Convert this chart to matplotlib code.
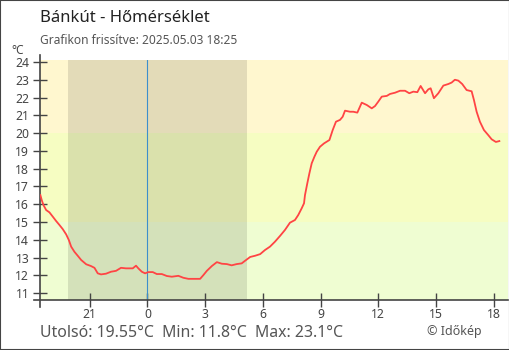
import matplotlib.pyplot as plt
from matplotlib.patches import Rectangle

plt.rcParams['font.family'] = ['Noto Sans', 'DejaVu Sans']

# hours relative to midnight (negative = previous evening)
hours = [-5.56, -5.49, -5.40, -5.26, -5.09, -4.91, -4.74, -4.57, -4.40, -4.22,
         -4.08, -3.96, -3.79, -3.62, -3.44, -3.18, -2.93, -2.75, -2.58, -2.41,
         -2.15, -1.89, -1.63, -1.37, -1.11, -0.76, -0.59, -0.47, -0.29, -0.12,
         0.05, 0.28, 0.49, 0.75, 1.01, 1.27, 1.61, 1.87, 2.13, 2.39,
         2.74, 2.91, 3.09, 3.35, 3.61, 3.87, 4.13, 4.38, 4.64, 4.90,
         5.08, 5.34, 5.60, 5.86, 6.11, 6.37, 6.63, 6.89, 7.15, 7.41,
         7.67, 7.84, 8.02, 8.14, 8.19, 8.31, 8.42, 8.54, 8.68, 8.80,
         8.97, 9.18, 9.46, 9.63, 9.80, 10.01, 10.15, 10.27, 10.53, 10.70,
         10.91, 11.14, 11.40, 11.66, 11.83, 12.00, 12.18, 12.44, 12.61, 12.87,
         13.13, 13.39, 13.61, 13.82, 14.03, 14.20, 14.43, 14.60, 14.72, 14.89,
         15.12, 15.38, 15.64, 15.81, 15.98, 16.16, 16.36, 16.59, 16.85, 16.97,
         17.11, 17.28, 17.49, 17.71, 17.89, 18.11, 18.29]
temps = [16.51, 16.23, 15.95, 15.67, 15.54, 15.29, 15.05, 14.83, 14.60, 14.30,
         13.98, 13.61, 13.32, 13.10, 12.86, 12.62, 12.52, 12.42, 12.11, 12.05,
         12.09, 12.20, 12.25, 12.42, 12.39, 12.39, 12.54, 12.39, 12.20, 12.11,
         12.18, 12.18, 12.07, 12.07, 11.96, 11.92, 11.97, 11.86, 11.80, 11.80,
         11.80, 12.01, 12.25, 12.52, 12.74, 12.65, 12.63, 12.56, 12.63, 12.67,
         12.82, 13.03, 13.10, 13.19, 13.42, 13.61, 13.89, 14.21, 14.55, 14.96,
         15.11, 15.39, 15.77, 16.05, 16.51, 17.17, 17.74, 18.30, 18.67, 18.95,
         19.23, 19.42, 19.61, 20.17, 20.64, 20.74, 20.92, 21.26, 21.20, 21.20,
         21.15, 21.71, 21.58, 21.39, 21.52, 21.77, 22.05, 22.09, 22.20, 22.27,
         22.38, 22.38, 22.24, 22.33, 22.30, 22.65, 22.24, 22.46, 22.52, 21.96,
         22.24, 22.67, 22.76, 22.84, 23.00, 22.95, 22.76, 22.42, 22.35, 21.86,
         21.20, 20.64, 20.17, 19.89, 19.65, 19.50, 19.55]

tick_pos = [-3, 0, 3, 6, 9, 12, 15, 18]
tick_lab = ['21', '0', '3', '6', '9', '12', '15', '18']
sunset, sunrise = -4.10, 5.16
band_edges = [15, 20]

xmin, xmax = -5.58, 18.74
ymin, ymax = 10.61, 24.11

fig = plt.figure(figsize=(5.1, 3.5), dpi=100)
fig.patches.append(Rectangle((0, 0), 1, 1, transform=fig.transFigure,
                             fill=False, edgecolor='#444444', lw=1.5))
ax = fig.add_axes([40 / 510, 50 / 350, 468 / 510, 240 / 350])

ax.axhspan(band_edges[1], ymax, color='#fff7cf', lw=0, zorder=0)
ax.axhspan(band_edges[0], band_edges[1], color='#f6fdc2', lw=0, zorder=0)
ax.axhspan(ymin, band_edges[0], color='#effdd2', lw=0, zorder=0)
ax.axvspan(sunset, sunrise, color='black', alpha=0.11, lw=0, zorder=1)
ax.axvline(0, color='#3d8fcc', lw=0.8, zorder=2)

ax.plot(hours, temps, color='#ff4444', lw=1.3, zorder=3)

ax.set_xlim(xmin, xmax)
ax.set_ylim(ymin, ymax)
ax.set_xticks(tick_pos, tick_lab)
ax.set_yticks(range(11, 25))
for s in ['top', 'right']:
    ax.spines[s].set_visible(False)
for s in ['left', 'bottom']:
    ax.spines[s].set_color('#444444')
    ax.spines[s].set_linewidth(1.2)
ax.spines['left'].set_bounds(ymin - 0.39, ymax + 0.28)
ax.spines['bottom'].set_bounds(xmin - 0.31, xmax)
ax.tick_params(direction='inout', length=9.4, width=1.0, color='#444444',
               labelcolor='#444444', labelsize=8.8)
ax.tick_params(axis='y', pad=3)
ax.tick_params(axis='x', pad=1)

fig.text(40 / 510, 1 - 18 / 350, 'Bánkút - Hőmérséklet', fontsize=12,
         color='#222222', va='center')
fig.text(40 / 510, 1 - 40 / 350, 'Grafikon frissítve: 2025.05.03 18:25',
         fontsize=8.6, color='#555555', va='center')
fig.text(18 / 510, 1 - 50 / 350, '°C', fontsize=8.6, color='#444444',
         ha='center', va='center')
fig.text(40 / 510, 1 - 333 / 350, 'Utolsó: 19.55°C  Min: 11.8°C  Max: 23.1°C',
         fontsize=11.4, color='#555555', va='center')
fig.text(482 / 510, 1 - 332 / 350, '© Időkép', fontsize=9, color='#555555',
         ha='right', va='center')

fig.savefig('out.png', dpi=100)
